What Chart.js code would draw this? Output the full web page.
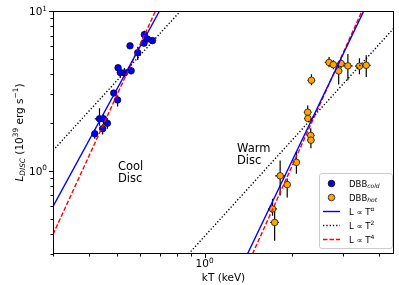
<!DOCTYPE html>
<html>
<head>
<meta charset="utf-8">
<script src="https://cdn.jsdelivr.net/npm/chart.js@4.4.0/dist/chart.umd.min.js"></script>
<style>
    html, body { margin: 0; padding: 0; background: #fff; }
    #chart { display: block; }
</style>
</head>
<body>
<canvas id="chart" width="399" height="285"></canvas>
<script>
// Cool disc points (DBB cold)
const coldKT = [0.620, 0.635, 0.661, 0.618, 0.553, 0.588, 0.503, 0.512, 0.529, 0.558, 0.486, 0.501, 0.434, 0.448, 0.462, 0.445, 0.418];
const coldL = [7.11, 6.67, 6.52, 6.29, 6.05, 5.48, 4.41, 4.12, 4.09, 4.22, 3.06, 2.77, 2.11, 2.11, 1.98, 1.83, 1.70];
const coldLErrLo = [0.30, 0.20, 0.25, 0.20, 0.15, 0.55, 0.20, 0.30, 0.25, 0.20, 0.12, 0.25, 0.20, 0.15, 0.15, 0.15, 0.12];
const coldLErrHi = [0.40, 0.20, 0.25, 0.20, 0.15, 0.50, 0.20, 0.40, 0.30, 0.20, 0.12, 0.20, 0.35, 0.15, 0.15, 0.12, 0.12];
const coldKTErr = [0.012, 0.010, 0.012, 0.010, 0.008, 0.010, 0.010, 0.010, 0.010, 0.008, 0.008, 0.010, 0.016, 0.010, 0.010, 0.010, 0.010];

// Warm disc points (DBB hot)
const hotKT = [2.687, 2.78, 2.955, 2.90, 3.12, 3.42, 3.61, 2.336, 2.268, 2.272, 2.323, 2.326, 2.073, 1.822, 1.927, 1.715, 1.744];
const hotL = [4.76, 4.61, 4.69, 4.21, 4.53, 4.51, 4.57, 3.68, 2.32, 2.12, 1.66, 1.55, 1.126, 0.927, 0.817, 0.575, 0.473];
const hotLErrLo = [0.32, 0.30, 0.30, 0.75, 0.85, 0.50, 0.71, 0.26, 0.20, 0.08, 0.15, 0.17, 0.17, 0.23, 0.14, 0.054, 0.11];
const hotLErrHi = [0.38, 0.30, 0.30, 0.40, 0.84, 0.55, 0.72, 0.33, 0.24, 0.20, 0.18, 0.15, 0.18, 0.23, 0.074, 0.09, 0.10];
const hotKTErr = [0.09, 0.08, 0.10, 0.08, 0.12, 0.12, 0.13, 0.07, 0.07, 0.07, 0.07, 0.07, 0.06, 0.07, 0.05, 0.06, 0.06];

// Fit lines, end points as seen on the plot
const coolAlphaKT = [0.3, 0.699];
const coolAlphaL = [0.596, 10];
const coolT4KT = [0.3, 0.677];
const coolT4L = [0.398, 10];
const coolT2KT = [0.3, 0.826];
const coolT2L = [1.336, 10];
const warmAlphaKT = [1.405, 3.54];
const warmAlphaL = [0.3, 10];
const warmT4KT = [1.462, 3.49];
const warmT4L = [0.3, 10];
const warmT2KT = [0.88, 4.5];
const warmT2L = [0.3, 7.82];

// Axes
const xRange = [0.3, 4.5];
const yRange = [0.3, 10];
const xMajorTicks = [1];
const xMinorTicks = [0.3, 0.4, 0.5, 0.6, 0.7, 0.8, 0.9, 2, 3, 4];
const yMajorTicks = [1, 10];
const yMinorTicks = [0.3, 0.4, 0.5, 0.6, 0.7, 0.8, 0.9, 2, 3, 4, 5, 6, 7, 8, 9];
const xTickLabels = [['10', '0']];
const yTickLabels = [['10', '0'], ['10', '1']];

const FONT = '"DejaVu Sans", "Liberation Sans", sans-serif';
const BLUE = '#0000ff';
const ORANGE = '#ffa500';
const RED = '#ff0000';

const toPoints = (xs, ys) => xs.map((x, i) => ({ x: x, y: ys[i] }));

// Draw a run of text pieces with sub/superscripts
function drawRich(ctx, parts, x, y, align) {
    const fontOf = p => `${p.italic ? 'italic ' : ''}${p.size}px ${FONT}`;
    let total = 0;
    parts.forEach(p => { ctx.font = fontOf(p); total += ctx.measureText(p.t).width; });
    let cx = align === 'center' ? x - total / 2 : align === 'right' ? x - total : x;
    ctx.textAlign = 'left';
    ctx.textBaseline = 'alphabetic';
    parts.forEach(p => {
        ctx.font = fontOf(p);
        ctx.fillText(p.t, cx, y + (p.dy || 0));
        cx += ctx.measureText(p.t).width;
    });
}

const powerLabel = (base, exp, size) => [
    { t: base, size: size },
    { t: exp, size: size * 0.7, dy: -size * 0.42 }
];

// Error bars go under the markers
const errorBarPlugin = {
    id: 'errorBars',
    beforeDatasetsDraw(chart) {
        const { ctx, chartArea, scales } = chart;
        const sets = [
            [coldKT, coldL, coldLErrLo, coldLErrHi, coldKTErr],
            [hotKT, hotL, hotLErrLo, hotLErrHi, hotKTErr]
        ];
        ctx.save();
        ctx.beginPath();
        ctx.rect(chartArea.left, chartArea.top, chartArea.right - chartArea.left, chartArea.bottom - chartArea.top);
        ctx.clip();
        ctx.strokeStyle = '#000';
        ctx.lineWidth = 1.2;
        sets.forEach(([kt, l, lo, hi, kerr]) => {
            kt.forEach((t, i) => {
                const px = scales.x.getPixelForValue(t);
                const py = scales.y.getPixelForValue(l[i]);
                ctx.beginPath();
                ctx.moveTo(px, scales.y.getPixelForValue(l[i] - lo[i]));
                ctx.lineTo(px, scales.y.getPixelForValue(l[i] + hi[i]));
                ctx.moveTo(scales.x.getPixelForValue(t - kerr[i]), py);
                ctx.lineTo(scales.x.getPixelForValue(t + kerr[i]), py);
                ctx.stroke();
            });
        });
        ctx.restore();
    }
};

// Frame, ticks, labels, notes and legend
const decorPlugin = {
    id: 'decor',
    afterDraw(chart) {
        const { ctx, chartArea: a, scales } = chart;
        ctx.save();
        ctx.strokeStyle = '#000';
        ctx.lineWidth = 1;
        ctx.strokeRect(a.left + 0.5, a.top + 0.5, a.right - a.left - 1, a.bottom - a.top - 1);

        // ticks point outward
        ctx.beginPath();
        const xTick = (v, len) => {
            const px = Math.round(scales.x.getPixelForValue(v)) + 0.5;
            ctx.moveTo(px, a.bottom); ctx.lineTo(px, a.bottom + len);
        };
        const yTick = (v, len) => {
            const py = Math.round(scales.y.getPixelForValue(v)) + 0.5;
            ctx.moveTo(a.left, py); ctx.lineTo(a.left - len, py);
        };
        xMajorTicks.forEach(v => xTick(v, 4));
        xMinorTicks.forEach(v => xTick(v, 2.5));
        yMajorTicks.forEach(v => yTick(v, 4));
        yMinorTicks.forEach(v => yTick(v, 2.5));
        ctx.stroke();

        ctx.fillStyle = '#000';
        xMajorTicks.forEach((v, i) => {
            const [b, e] = xTickLabels[i];
            drawRich(ctx, powerLabel(b, e, 10.5), scales.x.getPixelForValue(v), a.bottom + 13, 'center');
        });
        yMajorTicks.forEach((v, i) => {
            const [b, e] = yTickLabels[i];
            drawRich(ctx, powerLabel(b, e, 10.5), a.left - 6, scales.y.getPixelForValue(v) + 4, 'right');
        });

        // axis titles
        drawRich(ctx, [{ t: 'kT (keV)', size: 10.5 }], (a.left + a.right) / 2, 281, 'center');
        ctx.save();
        ctx.translate(22.5, (a.top + a.bottom) / 2);
        ctx.rotate(-Math.PI / 2);
        drawRich(ctx, [
            { t: 'L', size: 10.5, italic: true },
            { t: 'DISC', size: 7.4, italic: true, dy: 2.2 },
            { t: ' (10', size: 10.5 },
            { t: '39', size: 7.4, dy: -4.4 },
            { t: ' erg s', size: 10.5 },
            { t: '\u22121', size: 7.4, dy: -4.4 },
            { t: ')', size: 10.5 }
        ], 0, 0, 'center');
        ctx.restore();

        // region notes
        drawRich(ctx, [{ t: 'Cool', size: 11.5 }], 118, 170, 'left');
        drawRich(ctx, [{ t: 'Disc', size: 11.5 }], 118, 182, 'left');
        drawRich(ctx, [{ t: 'Warm', size: 11.5 }], 237, 152, 'left');
        drawRich(ctx, [{ t: 'Disc', size: 11.5 }], 237, 163.5, 'left');

        this.drawLegend(ctx);
        ctx.restore();
    },
    drawLegend(ctx) {
        const left = 319.5, top = 173.5, w = 73, h = 75, r = 2.5;
        ctx.save();
        ctx.beginPath();
        ctx.roundRect(left, top, w, h, r);
        ctx.fillStyle = 'rgba(255,255,255,0.8)';
        ctx.fill();
        ctx.strokeStyle = '#cccccc';
        ctx.lineWidth = 1;
        ctx.stroke();

        const rows = [183.5, 197.5, 211.5, 225.5, 239.5];
        const textX = 349;
        [BLUE, ORANGE].forEach((c, i) => {
            ctx.beginPath();
            ctx.arc(331.5, rows[i], 3.3, 0, Math.PI * 2);
            ctx.fillStyle = c;
            ctx.fill();
            ctx.strokeStyle = '#000';
            ctx.lineWidth = 0.7;
            ctx.stroke();
        });
        const lineRow = (y, color, dash) => {
            ctx.beginPath();
            ctx.setLineDash(dash);
            ctx.strokeStyle = color;
            ctx.lineWidth = 1.4;
            ctx.moveTo(323, y); ctx.lineTo(340, y);
            ctx.stroke();
            ctx.setLineDash([]);
        };
        lineRow(rows[2], BLUE, []);
        lineRow(rows[3], '#000', [1.3, 2]);
        lineRow(rows[4], RED, [4.5, 2]);

        ctx.fillStyle = '#000';
        const fs = 8.5;
        drawRich(ctx, [{ t: 'DBB', size: fs }, { t: 'cold', size: 6, italic: true, dy: 1.8 }], textX, rows[0] + 3, 'left');
        drawRich(ctx, [{ t: 'DBB', size: fs }, { t: 'hot', size: 6, italic: true, dy: 1.8 }], textX, rows[1] + 3, 'left');
        drawRich(ctx, [{ t: 'L \u221d T', size: fs }, { t: '\u03b1', size: 6, dy: -3.4 }], textX, rows[2] + 3, 'left');
        drawRich(ctx, [{ t: 'L \u221d T', size: fs }, { t: '2', size: 6, dy: -3.4 }], textX, rows[3] + 3, 'left');
        drawRich(ctx, [{ t: 'L \u221d T', size: fs }, { t: '4', size: 6, dy: -3.4 }], textX, rows[4] + 3, 'left');
        ctx.restore();
    }
};

// Build a dataset for a fit line
function fitLine(kt, l, color, dash) {
    return {
        data: toPoints(kt, l),
        showLine: true,
        borderColor: color,
        borderWidth: 1.4,
        borderDash: dash,
        pointRadius: 0,
        order: 0
    };
}

function scatterSet(kt, l, color) {
    return {
        data: toPoints(kt, l),
        showLine: false,
        backgroundColor: color,
        borderColor: '#000',
        borderWidth: 0.7,
        pointRadius: 3.3,
        order: 1
    };
}

new Chart(document.getElementById('chart'), {
    type: 'scatter',
    data: {
        datasets: [
            scatterSet(coldKT, coldL, BLUE),
            scatterSet(hotKT, hotL, ORANGE),
            fitLine(coolAlphaKT, coolAlphaL, BLUE, []),
            fitLine(coolT2KT, coolT2L, '#000', [1.3, 2]),
            fitLine(coolT4KT, coolT4L, RED, [4.5, 2]),
            fitLine(warmAlphaKT, warmAlphaL, BLUE, []),
            fitLine(warmT2KT, warmT2L, '#000', [1.3, 2]),
            fitLine(warmT4KT, warmT4L, RED, [4.5, 2])
        ]
    },
    options: {
        responsive: false,
        animation: false,
        layout: { padding: { left: 53, right: 5, top: 11, bottom: 31 } },
        plugins: { legend: { display: false }, tooltip: { enabled: false } },
        scales: {
            x: { type: 'logarithmic', min: xRange[0], max: xRange[1], display: false },
            y: { type: 'logarithmic', min: yRange[0], max: yRange[1], display: false }
        }
    },
    plugins: [errorBarPlugin, decorPlugin]
});
</script>
</body>
</html>
